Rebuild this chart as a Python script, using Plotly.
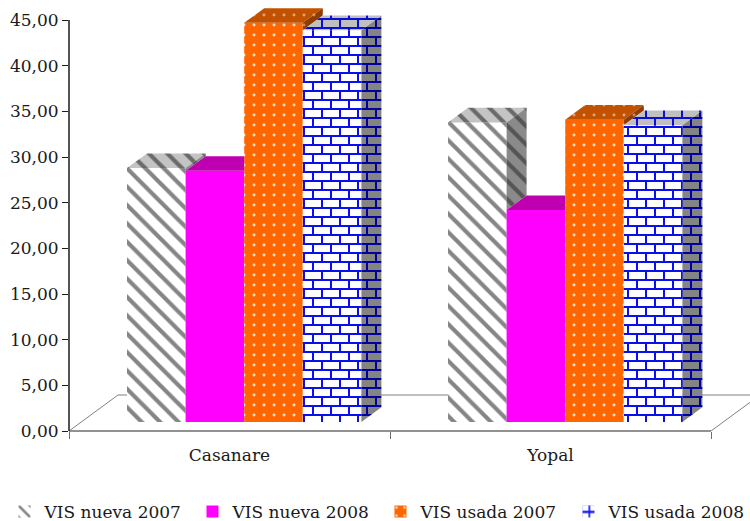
import plotly.graph_objects as go

categories = ["Casanare", "Yopal"]
series_names = ["VIS nueva 2007", "VIS nueva 2008", "VIS usada 2007", "VIS usada 2008"]
vis_nueva_2007 = [27.8, 32.8]
vis_nueva_2008 = [27.5, 23.2]
vis_usada_2007 = [43.7, 33.1]
vis_usada_2008 = [42.9, 32.5]
y_ticks = [0, 5, 10, 15, 20, 25, 30, 35, 40, 45]

series_values = [vis_nueva_2007, vis_nueva_2008, vis_usada_2007, vis_usada_2008]

W, H = 750.0, 521.0
MARGIN_B = 40.0
PH = H - MARGIN_B
LEFT, BOTTOM, TOP = 69.0, 431.0, 20.0
FONT = "DejaVu Serif"
TEXT = "#1a1a1a"
PX_X = 321.0          # pixels per category
PX_Y = (BOTTOM - TOP) / 45.0   # pixels per value unit
BAR_W = 58.6 / PX_X
START = -0.3645 + 14.5 / PX_X
DEPTH_X = 20.0 / PX_X
DEPTH_Y = 14.7 / PX_Y
FLOOR = 9.0 / PX_Y
WALL_X = 49.0 / PX_X
WALL_Y = 36.0 / PX_Y

has_path = "path" in go.bar.marker.Pattern()._valid_props
BRICK = ("M0,0H18V2H0Z M0,9H18V11H0Z M0,2H2V9H0Z M9,11H11V18H9Z")


def hatch(fg, bg):
    return dict(shape="\\", fgcolor=fg, bgcolor=bg, fgopacity=1, size=13, solidity=0.32)


def dots(fg, bg):
    return dict(shape=".", fgcolor=fg, bgcolor=bg, fgopacity=1, size=10, solidity=0.07)


def brick(fg, bg):
    if has_path:
        return dict(path=BRICK, fgcolor=fg, bgcolor=bg, fgopacity=1, size=18)
    return dict(shape="+", fgcolor=fg, bgcolor=bg, fgopacity=1, size=12, solidity=0.22)


front = [hatch("#858585", "#ffffff"), None, dots("#ffe0cc", "#ff6600"), brick("#0a0ff0", "#ffffff")]
front_plain = ["#ffffff", "#ff00ff", "#ff6600", "#ffffff"]
top = [hatch("#6a6a6a", "#c4c4c4"), None, dots("#dca67e", "#c25100"), brick("#0a0fd8", "#c0c0c0")]
top_plain = ["#c4c4c4", "#bf00b0", "#c25100", "#c0c0c0"]
side = [hatch("#555555", "#8a8a8a"), None, dots("#c08a60", "#8f3c00"), brick("#00009a", "#848484")]
side_plain = ["#8a8a8a", "#9a008f", "#8f3c00", "#848484"]
legend_ids = ["legend", "legend2", "legend3", "legend4"]
legend_left = [14.5, 202.5, 390.5, 578.5]

fig = go.Figure()

# front faces and legend entries
for i, name in enumerate(series_names):
    m = dict(color=front_plain[i], line=dict(width=0))
    if front[i]:
        m["pattern"] = front[i]
    fig.add_trace(go.Bar(
        x=list(range(len(categories))), y=series_values[i], base=FLOOR, name=name,
        width=BAR_W, offset=START + i * BAR_W, marker=m, hoverinfo="skip",
        legend=legend_ids[i], showlegend=True,
    ))


def face(xs, ys, pattern, col):
    fig.add_trace(go.Scatter(
        x=xs, y=ys, mode="lines", line=dict(width=0), fill="toself", fillcolor=col,
        fillpattern=pattern, showlegend=False, hoverinfo="skip",
    ))


# top and side faces derived from the values; parts hidden by the next bar are left out
for c in range(len(categories)):
    for i in range(len(series_names)):
        v = series_values[i][c] + FLOOR
        nxt = series_values[i + 1][c] + FLOOR if i < len(series_names) - 1 else FLOOR
        xl = c + START + i * BAR_W
        xr = xl + BAR_W
        if nxt > v:
            xs = [xl, xr, xr, xl + DEPTH_X, xl]
        else:
            xs = [xl, xr, xr + DEPTH_X, xl + DEPTH_X, xl]
        ys = [v, v, v + DEPTH_Y, v + DEPTH_Y, v]
        face(xs, ys, top[i], top_plain[i])
        if v > nxt:
            xs = [xr, xr + DEPTH_X, xr + DEPTH_X, xr, xr]
            ys = [v, v + DEPTH_Y, nxt + DEPTH_Y, nxt, v]
            face(xs, ys, side[i], side_plain[i])

x_end = 1.5 + (W - LEFT - 2 * PX_X) / PX_X
y_end = BOTTOM / PX_Y     # the plot area runs to the top of the page, above the 45 tick
floor_col = "#808080"
y_base = (PH - BOTTOM) / PH
shapes = [
    dict(type="line", xref="x", yref="y", x0=-0.5, y0=0, x1=-0.5 + WALL_X, y1=WALL_Y, layer="below",
         line=dict(color=floor_col, width=1)),
    dict(type="line", xref="x", yref="y", x0=-0.5 + WALL_X, y0=WALL_Y, x1=1.5 + WALL_X, y1=WALL_Y, layer="below",
         line=dict(color=floor_col, width=1)),
    dict(type="line", xref="x", yref="y", x0=1.5, y0=0, x1=1.5 + WALL_X, y1=WALL_Y, layer="below",
         line=dict(color=floor_col, width=1)),
    dict(type="line", xref="x", yref="paper", x0=-0.5, y0=y_base, x1=1.5, y1=y_base, layer="above",
         line=dict(color="#6e6e6e", width=1.5)),
    dict(type="line", xref="paper", yref="y", x0=LEFT / W, y0=0, x1=LEFT / W, y1=max(y_ticks), layer="above",
         line=dict(color="#1a1a1a", width=1.5)),
]

legend_opts = {}
for lid, left in zip(legend_ids, legend_left):
    legend_opts[lid] = dict(
        orientation="h", xref="container", yref="container",
        x=left / W, xanchor="left", y=(H - 512) / H, yanchor="middle",
        indentation=-10, font=dict(family=FONT, size=17, color=TEXT), bgcolor="rgba(0,0,0,0)",
    )

fig.update_layout(
    width=750, height=521, autosize=False,
    margin=dict(l=0, r=0, t=0, b=MARGIN_B),
    paper_bgcolor="white", plot_bgcolor="white",
    barmode="overlay", separators=",.", shapes=shapes,
    font=dict(family=FONT, color=TEXT, size=17),
    xaxis=dict(
        domain=[LEFT / W, 1], range=[-0.5, x_end], showgrid=False, zeroline=False, showline=False,
        automargin=False,
        tickmode="array", tickvals=list(range(len(categories))), ticktext=categories,
        ticks="", ticklabelstandoff=12, tickfont=dict(family=FONT, size=17, color=TEXT),
        minor=dict(tickmode="array", tickvals=[-0.5, 0.5, 1.5], ticks="outside", ticklen=7,
                   tickwidth=1, tickcolor="#6e6e6e", showgrid=False),
    ),
    yaxis=dict(
        domain=[y_base, 1], range=[0, y_end], tickmode="array", tickvals=y_ticks, tickformat=".2f",
        automargin=False,
        showgrid=False, zeroline=False, showline=False,
        ticks="outside", ticklen=6, tickwidth=1, tickcolor="#1a1a1a",
        tickfont=dict(family=FONT, size=17, color=TEXT),
    ),
    **legend_opts,
)

fig.write_html("out.html", post_script="document.body.style.margin='0';",
               config={"displayModeBar": False})
